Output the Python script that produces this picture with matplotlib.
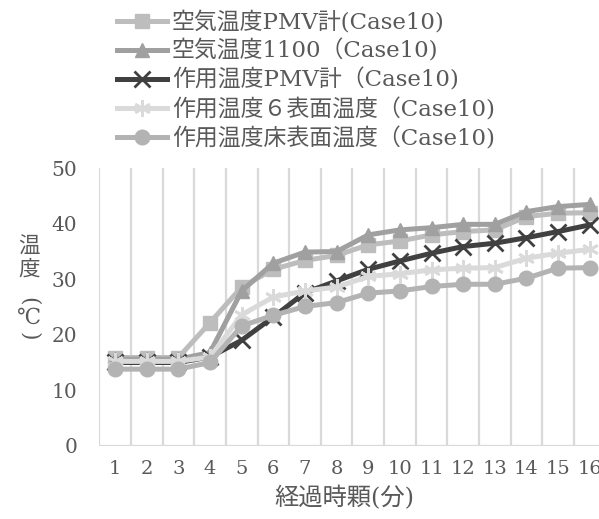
import matplotlib.pyplot as plt

plt.rcParams['font.family'] = ['DejaVu Serif', 'Noto Sans CJK JP', 'DejaVu Sans']

minutes = list(range(1, 17))
tick_labels = [str(m) for m in minutes]

air_pmv = [15.9, 15.9, 15.9, 22.2, 28.6, 31.8, 33.4, 34.3, 36.2, 36.9, 38.0, 38.6, 38.9, 41.3, 41.9, 42.0]
air_1100 = [15.6, 15.6, 15.6, 16.8, 27.9, 32.9, 34.9, 35.0, 38.0, 38.9, 39.3, 39.9, 39.9, 42.2, 43.1, 43.5]
op_pmv = [15.0, 15.0, 15.0, 16.0, 19.0, 23.2, 27.6, 29.7, 31.8, 33.3, 34.7, 35.9, 36.5, 37.5, 38.6, 39.8]
op_6surf = [15.2, 15.2, 15.2, 16.0, 23.6, 26.8, 27.9, 28.6, 30.5, 31.0, 31.7, 32.0, 32.1, 33.8, 34.7, 35.4]
op_floor = [13.8, 13.8, 13.8, 15.0, 21.6, 23.5, 25.1, 25.8, 27.5, 27.9, 28.7, 29.1, 29.1, 30.2, 32.0, 32.1]

labels = ['空気温度PMV計(Case10)',
          '空気温度1100（Case10)',
          '作用温度PMV計（Case10)',
          '作用温度６表面温度（Case10)',
          '作用温度床表面温度（Case10)']

txt = '#595959'

fig = plt.figure(figsize=(5.99, 5.19), dpi=100)
ax = fig.add_axes([0.1658, 0.1412, 0.8452, 0.5345])

lw = 3.6
ax.plot(minutes, air_pmv, color='#BDBDBD', lw=lw, marker='s', ms=9.5, label=labels[0])
ax.plot(minutes, air_1100, color='#A0A0A0', lw=lw, marker='^', ms=10.5, label=labels[1])
ax.plot(minutes, op_pmv, color='#404040', lw=lw, marker='x', ms=11, mew=2, label=labels[2])
ax.plot(minutes, op_6surf, color='#DADADA', lw=lw, marker=(6, 2, 0), ms=12, mew=2, label=labels[3])
ax.plot(minutes, op_floor, color='#B3B3B3', lw=lw, marker='o', ms=10.5, label=labels[4])

ax.set_xlim(0.5, 16.5)
ax.set_ylim(0, 50)
ax.set_yticks([0, 10, 20, 30, 40, 50])
ax.set_xticks(minutes)
ax.set_xticklabels(tick_labels)
for b in [m + 0.5 for m in range(0, 17)]:
    ax.axvline(b, color='#D9D9D9', lw=1.6, zorder=0)
for s in ax.spines.values():
    s.set_visible(False)
ax.axhline(0, color='#D9D9D9', lw=1.6, zorder=0)
ax.tick_params(length=0, labelsize=14.5, colors=txt)
ax.tick_params(axis='x', labelsize=14, pad=10)
ax.tick_params(axis='y', pad=16)

ax.set_xlabel('経過時顆(分)', fontsize=17.5, color=txt, labelpad=8)
ax.xaxis.set_label_coords(0.484, -0.145)

# vertical y label, one glyph per line
ylab_x = 29 / 599
for ch, ypx, rot in [('温', 247, 0), ('度', 270, 0), ('(', 301, 270),
                     ('℃', 318, 0), (')', 336, 270)]:
    fig.text(ylab_x, 1 - ypx / 519, ch, fontsize=15.5, color=txt,
             ha='center', va='center', rotation=rot)

fig.legend(loc='upper left', bbox_to_anchor=(0.168, 1.01), frameon=False,
           fontsize=16.5, labelcolor=txt, handlelength=2.2, handletextpad=0.2,
           labelspacing=0.26, borderpad=0.2)

fig.savefig('out.png', dpi=100)
